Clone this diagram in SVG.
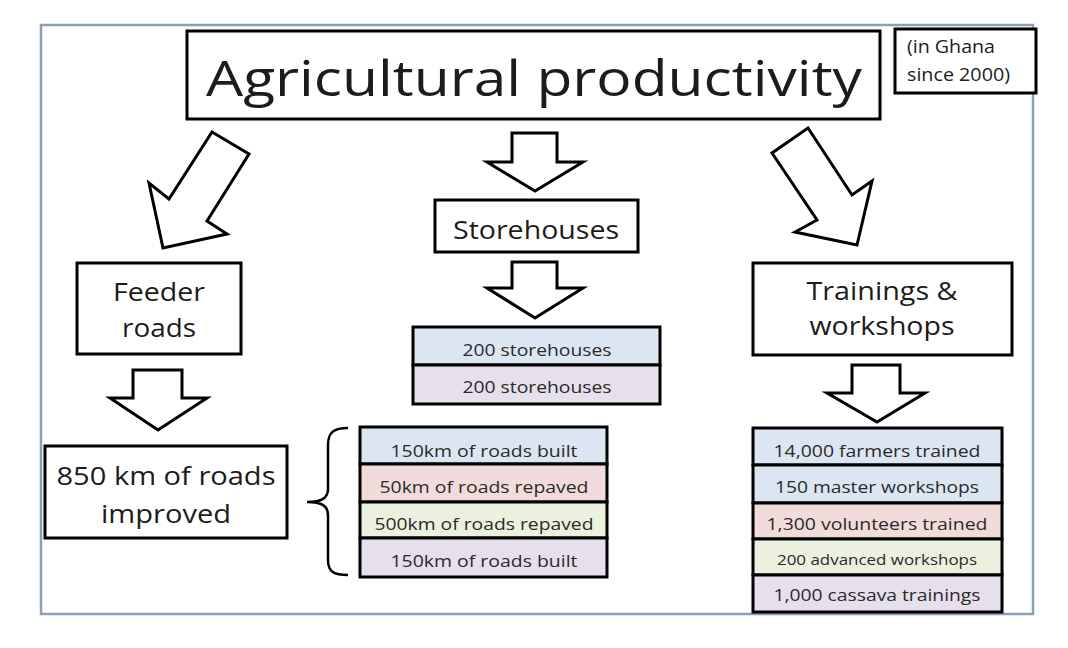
<svg xmlns="http://www.w3.org/2000/svg" width="1068" height="648" viewBox="0 0 1068 648">
<style>
.frame{fill:#fff;stroke:#8a9fc0;stroke-width:2.5}
.box{fill:#fff;stroke:#000;stroke-width:3}
.arrow{fill:#fff;stroke:#000;stroke-width:3;stroke-linejoin:miter}
.brace{fill:none;stroke:#000;stroke-width:2.5}
.t{font-family:"Open Sans","Liberation Sans",sans-serif;fill:#1c1c1c;text-anchor:middle}
.s{font-family:"Open Sans","Liberation Sans",sans-serif;fill:#1c1c1c;text-anchor:start}
.l{font-family:"Open Sans","Liberation Sans",sans-serif;fill:#2a2a2a;text-anchor:middle;font-size:17px}
.blue{fill:#dce6f2}.pink{fill:#f2dcdb}.green{fill:#ebf1de}.lav{fill:#e6e0ec}
.cell{stroke:#000;stroke-width:3}
</style>
<rect x="0" y="0" width="1068" height="648" fill="#fff"/>
<rect class="frame" x="41" y="25" width="992" height="589"/>

<g id="connectors">
<polygon class="arrow" points="212,132 249,154 207,221 227,234 163,248 149,183 169,199"/>
<polygon class="arrow" points="512,133 557,133 557,162 583,162 535,191 487,162 512,162"/>
<polygon class="arrow" points="808,128 852,195 872,181 857,245 795,232 817,220 772,153"/>
<polygon class="arrow" points="512,262 557,262 557,288 583,288 535,318 487,288 512,288"/>
<polygon class="arrow" points="133,370 182,370 182,398 207,398 158,430 110,398 133,398"/>
<polygon class="arrow" points="852,365 900,365 900,393 925,393 877,422 827,393 852,393"/>
<path class="brace" d="M348,428 C334,428 328,432 328,445 L328,489 C328,498 322,502 307,502 C322,502 328,506 328,515 L328,560 C328,572 334,575 348,575"/>
</g>

<g id="title">
<rect class="box" x="187" y="31" width="693" height="88"/>
<text class="t" x="534" y="96" font-size="50" textLength="656" lengthAdjust="spacingAndGlyphs">Agricultural productivity</text>
</g>

<g id="ghana">
<rect class="box" x="895" y="29" width="141" height="64"/>
<text class="s" x="907" y="53" font-size="18" textLength="88" lengthAdjust="spacingAndGlyphs">(in Ghana</text>
<text class="s" x="907" y="81" font-size="18" textLength="103" lengthAdjust="spacingAndGlyphs">since 2000)</text>
</g>

<g id="feeder">
<rect class="box" x="77" y="263" width="164" height="91"/>
<text class="t" x="159" y="301" font-size="25" textLength="92" lengthAdjust="spacingAndGlyphs">Feeder</text>
<text class="t" x="159" y="337" font-size="25" textLength="74" lengthAdjust="spacingAndGlyphs">roads</text>
</g>

<g id="storehouses">
<rect class="box" x="435" y="200" width="203" height="52"/>
<text class="t" x="536" y="239" font-size="26" textLength="166" lengthAdjust="spacingAndGlyphs">Storehouses</text>
</g>

<g id="trainings">
<rect class="box" x="753" y="263" width="259" height="92"/>
<text class="t" x="882" y="300" font-size="25" textLength="151" lengthAdjust="spacingAndGlyphs">Trainings &amp;</text>
<text class="t" x="882" y="335" font-size="25" textLength="145" lengthAdjust="spacingAndGlyphs">workshops</text>
</g>

<g id="roads850">
<rect class="box" x="45" y="446" width="242" height="92"/>
<text class="t" x="166" y="485" font-size="26" textLength="219" lengthAdjust="spacingAndGlyphs">850 km of roads</text>
<text class="t" x="166" y="523" font-size="26" textLength="130" lengthAdjust="spacingAndGlyphs">improved</text>
</g>

<g id="storehouse-list">
<rect class="cell blue" x="413" y="327" width="247" height="38"/>
<rect class="cell lav" x="413" y="365" width="247" height="39"/>
<text class="l" x="537" y="356" textLength="149" lengthAdjust="spacingAndGlyphs">200 storehouses</text>
<text class="l" x="537" y="393" textLength="149" lengthAdjust="spacingAndGlyphs">200 storehouses</text>
</g>

<g id="roads-list">
<rect class="cell blue" x="360" y="427" width="247" height="37"/>
<rect class="cell pink" x="360" y="464" width="247" height="38"/>
<rect class="cell green" x="360" y="502" width="247" height="36"/>
<rect class="cell lav" x="360" y="538" width="247" height="39"/>
<text class="l" x="484" y="457" textLength="187" lengthAdjust="spacingAndGlyphs">150km of roads built</text>
<text class="l" x="484" y="493" textLength="209" lengthAdjust="spacingAndGlyphs">50km of roads repaved</text>
<text class="l" x="484" y="530" textLength="219" lengthAdjust="spacingAndGlyphs">500km of roads repaved</text>
<text class="l" x="484" y="567" textLength="187" lengthAdjust="spacingAndGlyphs">150km of roads built</text>
</g>

<g id="trainings-list">
<rect class="cell blue" x="753" y="428" width="249" height="37"/>
<rect class="cell blue" x="753" y="465" width="249" height="38"/>
<rect class="cell pink" x="753" y="503" width="249" height="36"/>
<rect class="cell green" x="753" y="539" width="249" height="36"/>
<rect class="cell lav" x="753" y="575" width="249" height="37"/>
<text class="l" x="877" y="457" textLength="207" lengthAdjust="spacingAndGlyphs">14,000 farmers trained</text>
<text class="l" x="877" y="493" textLength="204" lengthAdjust="spacingAndGlyphs">150 master workshops</text>
<text class="l" x="877" y="530" textLength="221" lengthAdjust="spacingAndGlyphs">1,300 volunteers trained</text>
<text class="l" x="877" y="565" style="font-size:15px" textLength="200" lengthAdjust="spacingAndGlyphs">200 advanced workshops</text>
<text class="l" x="877" y="601" textLength="207" lengthAdjust="spacingAndGlyphs">1,000 cassava trainings</text>
</g>
</svg>
